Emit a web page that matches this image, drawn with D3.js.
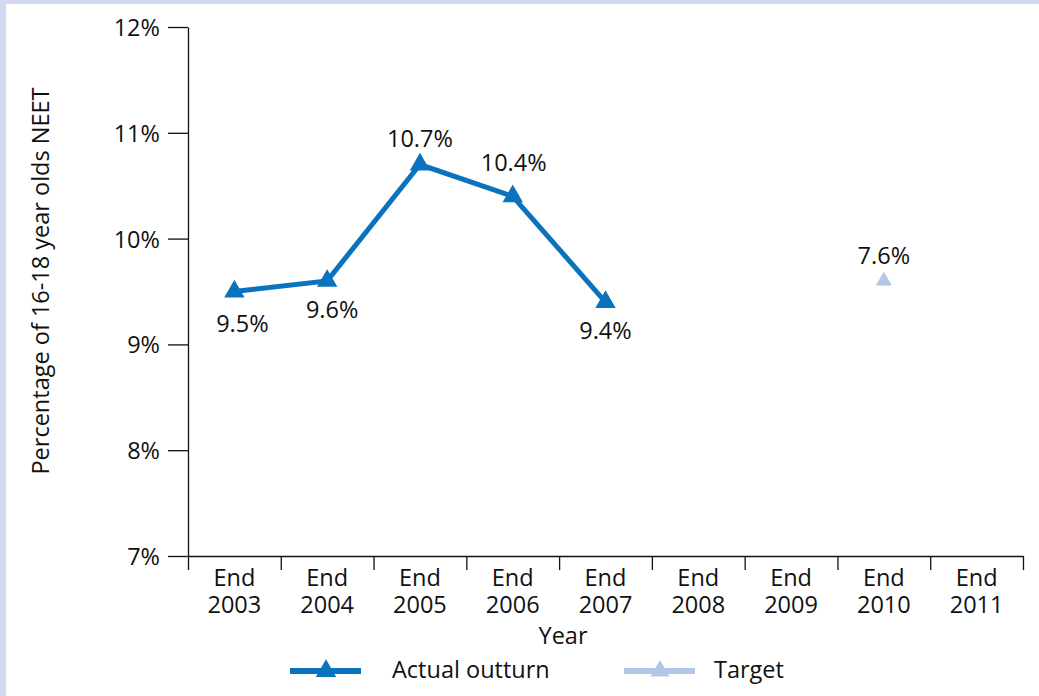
<!DOCTYPE html>
<html>
<head>
<meta charset="utf-8">
<script src="https://cdn.jsdelivr.net/npm/d3@7"></script>
<style>
    body { margin: 0; background: #ffffff; }
    svg text { font-family: "Open Sans", "Noto Sans", sans-serif; fill: #111; }
</style>
</head>
<body>
<div id="chart"></div>
<script>
"use strict";

const years = ["2003", "2004", "2005", "2006", "2007", "2008", "2009", "2010", "2011"];
const actualYears = ["2003", "2004", "2005", "2006", "2007"];
const actualValues = [9.5, 9.6, 10.7, 10.4, 9.4];
const targetYears = ["2010"];
const targetValues = [9.6];
const targetLabels = ["7.6%"];
const yTicks = [7, 8, 9, 10, 11, 12];

const msm = {
    width: 1039,
    height: 696,
    left: 188,
    right: 1023,
    top: 27,
    bottom: 556
}
const colors = {
    actual: "#0b73bd",
    target: "#b4c6e7",
    frame: "#d1daf0"
}
const fontSize = "23.5px";

// label offsets (from the point) so they sit like the original
const actualLabelOffsets = [[8, 40], [5, 37], [0, -18], [1, -25], [0, 37]];
const targetLabelOffsets = [[0, -17]];

window.onload = function () {
    let svg = d3.select("#chart")
        .append("svg")
        .attr("width", msm.width)
        .attr("height", msm.height);

    // light frame on top and left
    svg.append("rect").attr("x", 0).attr("y", 0).attr("width", msm.width).attr("height", 4).attr("fill", colors.frame);
    svg.append("rect").attr("x", 0).attr("y", 0).attr("width", 6).attr("height", msm.height).attr("fill", colors.frame);

    let xScale = d3.scaleBand()
        .domain(years)
        .range([msm.left, msm.right])
        .padding(0);
    let yScale = d3.scaleLinear()
        .domain([7, 12])
        .range([msm.bottom, msm.top]);

    drawAxes(svg, xScale, yScale);
    plotSeries(svg, xScale, yScale);
    makeLegend(svg);
}

function drawAxes(svg, xScale, yScale) {
    let yAxis = d3.axisLeft(yScale)
        .tickValues(yTicks)
        .tickSize(20)
        .tickSizeOuter(0)
        .tickPadding(8)
        .tickFormat((d) => d + "%");
    let gy = svg.append("g")
        .attr("transform", "translate(" + msm.left + ",0)")
        .call(yAxis);
    gy.selectAll("text").style("font-size", fontSize).attr("dy", "0.36em");

    // tick marks sit on the band edges
    let edgeScale = d3.scaleLinear().domain([0, years.length]).range([msm.left, msm.right]);
    let xAxis = d3.axisBottom(edgeScale)
        .tickValues(d3.range(years.length + 1))
        .tickSize(14)
        .tickSizeOuter(0)
        .tickFormat("");
    svg.append("g")
        .attr("transform", "translate(0," + msm.bottom + ")")
        .call(xAxis);

    svg.selectAll(".domain, .tick line").attr("stroke", "#111").attr("stroke-width", 1.3);

    let cx = (d) => xScale(d) + xScale.bandwidth() / 2;
    let labels = svg.append("g");
    labels.selectAll(".endLabel")
        .data(years)
        .enter()
        .append("text")
        .attr("class", "endLabel")
        .attr("x", cx)
        .attr("y", 586)
        .attr("text-anchor", "middle")
        .style("font-size", fontSize)
        .text("End");
    labels.selectAll(".yearLabel")
        .data(years)
        .enter()
        .append("text")
        .attr("class", "yearLabel")
        .attr("x", cx)
        .attr("y", 613)
        .attr("text-anchor", "middle")
        .style("font-size", fontSize)
        .text((d) => d);

    svg.append("text")
        .attr("x", 563)
        .attr("y", 644)
        .attr("text-anchor", "middle")
        .style("font-size", fontSize)
        .text("Year");

    svg.append("text")
        .attr("transform", "translate(49," + 281 + ") rotate(-90)")
        .attr("text-anchor", "middle")
        .style("font-size", fontSize)
        .text("Percentage of 16-18 year olds NEET");
}

function plotSeries(svg, xScale, yScale) {
    let cx = (year) => xScale(year) + xScale.bandwidth() / 2;
    let actual = actualYears.map((y, i) => ({year: y, value: actualValues[i]}));
    let target = targetYears.map((y, i) => ({year: y, value: targetValues[i], label: targetLabels[i]}));

    svg.append("path")
        .datum(actual)
        .attr("fill", "none")
        .attr("stroke", colors.actual)
        .attr("stroke-width", 5)
        .attr("d", d3.line()
            .x((d) => cx(d.year))
            .y((d) => yScale(d.value)));

    svg.selectAll(".actualMark")
        .data(actual)
        .enter()
        .append("path")
        .attr("class", "actualMark")
        .attr("transform", (d) => "translate(" + cx(d.year) + "," + yScale(d.value) + ")")
        .attr("d", d3.symbol().type(d3.symbolTriangle).size(180))
        .attr("fill", colors.actual);

    svg.selectAll(".actualLabel")
        .data(actual)
        .enter()
        .append("text")
        .attr("class", "actualLabel")
        .attr("x", (d, i) => cx(d.year) + actualLabelOffsets[i][0])
        .attr("y", (d, i) => yScale(d.value) + actualLabelOffsets[i][1])
        .attr("text-anchor", "middle")
        .style("font-size", fontSize)
        .text((d) => d.value.toFixed(1) + "%");

    svg.selectAll(".targetMark")
        .data(target)
        .enter()
        .append("path")
        .attr("class", "targetMark")
        .attr("transform", (d) => "translate(" + cx(d.year) + "," + yScale(d.value) + ")")
        .attr("d", d3.symbol().type(d3.symbolTriangle).size(112))
        .attr("fill", colors.target);

    svg.selectAll(".targetLabel")
        .data(target)
        .enter()
        .append("text")
        .attr("class", "targetLabel")
        .attr("x", (d, i) => cx(d.year) + targetLabelOffsets[i][0])
        .attr("y", (d, i) => yScale(d.value) + targetLabelOffsets[i][1])
        .attr("text-anchor", "middle")
        .style("font-size", fontSize)
        .text((d) => d.label);
}

function makeLegend(svg) {
    let items = [
        {name: "Actual outturn", color: colors.actual, x: 290, textX: 392, size: 180},
        {name: "Target", color: colors.target, x: 624, textX: 714, size: 160}
    ];
    let g = svg.append("g");
    items.forEach((it) => {
        g.append("line")
            .attr("x1", it.x).attr("x2", it.x + 71)
            .attr("y1", 671).attr("y2", 671)
            .attr("stroke", it.color)
            .attr("stroke-width", 6);
        g.append("path")
            .attr("transform", "translate(" + (it.x + 36) + ",671)")
            .attr("d", d3.symbol().type(d3.symbolTriangle).size(it.size))
            .attr("fill", it.color);
        g.append("text")
            .attr("x", it.textX)
            .attr("y", 678)
            .style("font-size", fontSize)
            .text(it.name);
    });
}
</script>
</body>
</html>
